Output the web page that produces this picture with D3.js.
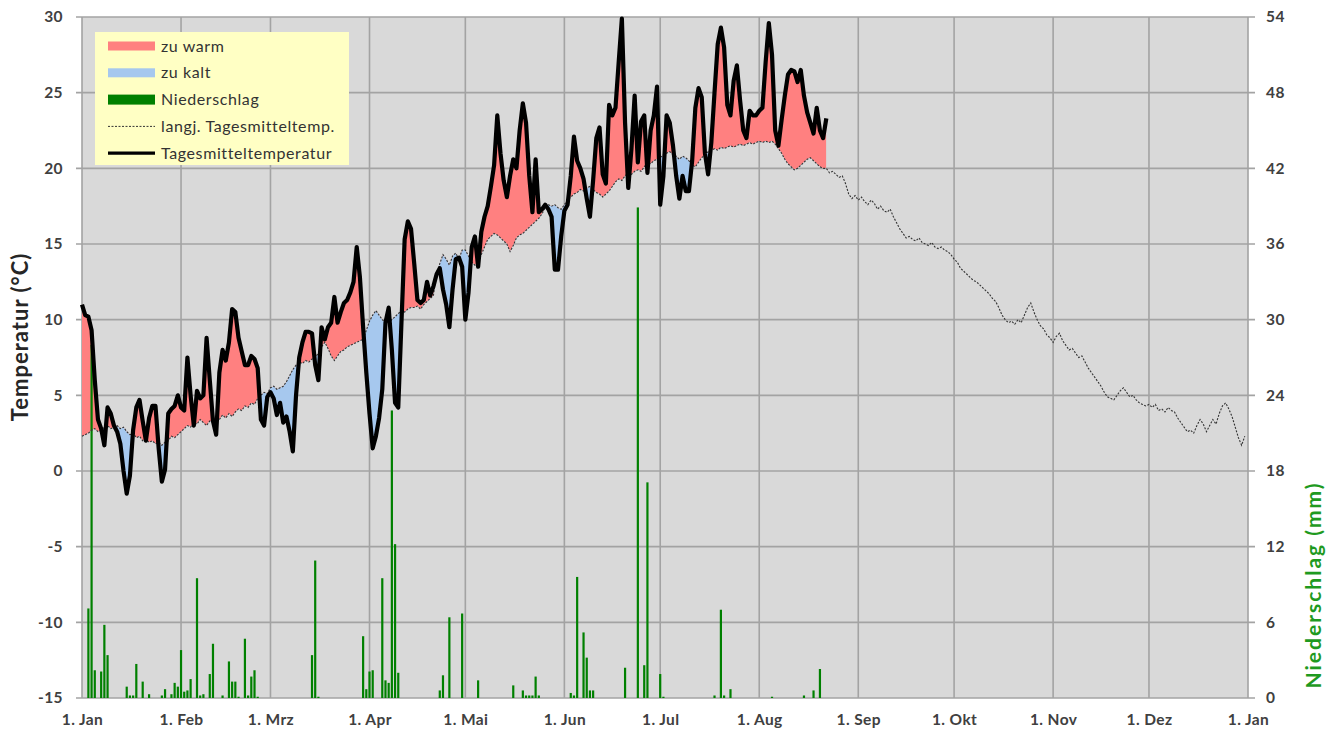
<!DOCTYPE html>
<html>
<head>
<meta charset="utf-8">
<script src="https://cdn.jsdelivr.net/npm/d3@7"></script>
<style>
  body { margin: 0; background: #ffffff; }
  svg { display: block; font-family: Lato, "Open Sans", sans-serif; }
</style>
</head>
<body>
<div class="chart"></div>
<script>
// day index 0 = 1. Jan, non-leap year
var monthStarts = [0, 31, 59, 90, 120, 151, 181, 212, 243, 273, 304, 334, 365];
var monthLabels = ["1. Jan", "1. Feb", "1. Mrz", "1. Apr", "1. Mai", "1. Jun", "1. Jul",
  "1. Aug", "1. Sep", "1. Okt", "1. Nov", "1. Dez", "1. Jan"];
var tempTicks = [-15, -10, -5, 0, 5, 10, 15, 20, 25, 30];
var precipTicks = [0, 6, 12, 18, 24, 30, 36, 42, 48, 54];

// Tagesmitteltemperatur (°C), 1. Jan .. 22. Aug
var tempActual = [
  11.0, 10.3, 10.2, 9.3, 6.0, 3.4, 2.8, 1.7, 4.2, 3.8, 3.0, 2.6, 1.8, 0.0, -1.5, -0.3,
  2.7, 4.2, 4.7, 3.3, 2.0, 3.5, 4.3, 4.3, 1.5, -0.7, 0.1, 3.8, 4.1, 4.3, 5.0,
  4.2, 4.0, 7.5, 5.0, 3.0, 5.3, 4.8, 5.0, 8.8, 6.0, 3.3, 2.4, 6.5, 8.0, 7.3, 8.5,
  10.7, 10.5, 8.8, 7.9, 7.0, 7.0, 7.6, 7.4, 6.8, 3.4, 3.0, 4.9,
  5.2, 4.8, 3.7, 4.5, 3.2, 3.6, 2.6, 1.3, 5.0, 7.5, 8.5, 9.2, 9.2, 9.1, 7.0, 6.0,
  9.5, 8.7, 9.5, 9.8, 11.5, 9.8, 10.5, 11.1, 11.3, 11.8, 12.5, 14.8, 12.8, 9.5, 6.5,
  3.8, 1.5, 2.3, 3.5, 5.4, 9.8, 10.8, 8.0, 4.5, 4.2, 9.8, 15.3, 16.5, 16.0, 13.7,
  11.3, 11.1, 11.3, 12.5, 11.6, 12.2, 13.0, 13.4, 12.0, 11.0, 9.5, 12.0, 14.0, 14.1, 13.5,
  10.0, 11.8, 14.8, 15.5, 13.5, 15.8, 16.8, 17.5, 18.8, 20.2, 23.5, 21.0, 19.2, 18.1,
  19.5, 20.6, 20.0, 22.5, 24.3, 23.0, 19.5, 17.1, 20.6, 17.1, 17.3, 17.6, 17.3, 16.8,
  13.3, 13.3, 15.5,
  17.2, 17.6, 19.5, 22.1, 20.5, 20.0, 19.3, 18.0, 16.8, 19.2, 22.0, 22.7, 19.6, 19.0,
  24.2, 23.5, 24.0, 27.0, 29.9, 23.0, 18.7, 21.3, 24.8, 20.4, 23.1, 23.5, 19.7, 22.5,
  23.5, 25.4,
  17.6, 19.5, 23.5, 23.0, 21.5, 19.5, 18.0, 19.5, 18.5, 18.5, 20.5, 24.0, 25.3, 24.7,
  21.0, 19.6, 21.7, 25.0, 28.2, 29.3, 28.0, 24.2, 23.5, 25.8, 26.8, 24.5, 22.5, 22.0,
  23.8, 23.5, 23.5,
  23.8, 24.0, 27.0, 29.6, 27.5, 22.5, 21.5, 23.2, 24.8, 26.2, 26.5, 26.4, 25.7, 26.5,
  24.8, 23.7, 23.0, 22.3, 24.0, 22.5, 22.0, 23.3
];

// langjährige Tagesmitteltemperatur (°C), ganzes Jahr
var tempNormal = [
  2.3, 2.4, 2.5, 2.7, 2.8, 2.6, 2.7, 2.9, 3.0, 2.8, 2.9, 3.0, 2.8, 2.9, 2.6, 2.4,
  2.5, 2.2, 2.3, 2.0, 2.1, 1.9, 2.0, 1.8, 1.9, 1.7, 1.9, 2.0, 2.3, 2.2, 2.4,
  2.6, 2.8, 3.0, 2.9, 3.2, 3.1, 3.4, 3.2, 3.0, 3.3, 3.2, 3.5, 3.4, 3.7, 3.5, 3.8,
  3.6, 3.9, 4.1, 4.0, 4.3, 4.2, 4.5, 4.4, 4.8, 5.0, 5.2, 5.1,
  5.5, 5.6, 5.4, 5.5, 5.6, 5.9, 6.3, 6.7, 7.0, 7.2, 7.1, 7.3, 7.2, 7.4, 7.5, 7.8,
  8.2, 8.5, 8.1, 7.6, 7.3, 7.6, 7.9, 8.0, 8.2, 8.3, 8.4, 8.5, 8.6, 8.7, 9.3,
  9.9, 10.3, 10.6, 10.3, 10.0, 9.8, 9.8, 10.0, 10.2, 10.4, 10.6, 10.5, 10.7, 10.8, 10.8,
  10.9, 10.7, 11.0, 11.2, 11.4, 11.6, 13.0, 13.7, 14.3, 14.0, 13.6, 14.2, 14.4, 14.0, 14.6,
  14.6, 14.2, 13.8, 13.6, 13.8, 14.3, 14.8, 15.3, 15.5, 15.7, 15.6, 15.4, 15.2, 15.0,
  14.5, 14.9, 15.4, 15.6, 15.7, 15.9, 16.1, 16.3, 16.5, 16.7, 17.0, 17.4, 17.6, 17.5,
  17.6, 17.4, 17.3,
  17.6, 17.9, 18.1, 18.3, 18.4, 18.6, 18.5, 18.7, 18.8, 18.6, 18.4, 18.3, 18.1, 18.3,
  18.5, 18.8, 19.1, 19.3, 19.2, 19.5, 19.7, 19.6, 19.8, 19.9, 19.8, 20.1, 20.4, 20.3,
  20.5, 20.6,
  20.7, 20.9, 21.0, 21.1, 20.9, 20.8, 20.6, 20.8, 20.7, 20.5, 20.2, 20.1, 20.4, 20.7,
  20.9, 21.1, 21.2, 21.3, 21.2, 21.4, 21.3, 21.4, 21.5, 21.4, 21.5, 21.6, 21.5, 21.6,
  21.7, 21.6, 21.7,
  21.8, 21.7, 21.8, 21.7, 21.8, 21.6, 21.3, 21.0, 20.6, 20.3, 20.1, 19.9, 20.0, 20.2,
  20.4, 20.6, 20.7, 20.5, 20.3, 20.1, 20.0, 20.0, 19.7, 19.8, 19.6, 19.4, 19.5, 19.0,
  18.3, 18.0, 18.2,
  17.9, 18.1, 17.8, 17.6, 17.9, 17.7, 17.3, 17.5, 17.2, 17.1, 17.3, 16.8, 16.4, 16.0,
  15.7, 15.4, 15.5, 15.3, 15.2, 15.4, 15.1, 15.0, 14.9, 15.1, 14.8, 14.7, 14.8, 14.6,
  14.5, 14.3,
  14.0, 13.8, 13.4, 13.2, 13.0, 12.8, 12.6, 12.5, 12.3, 12.1, 11.9, 11.7, 11.4, 11.2,
  10.8, 10.3, 10.0, 9.8, 9.9, 9.7, 10.0, 9.8, 10.3, 10.8, 11.1, 10.5, 10.0, 9.6, 9.4,
  9.0, 8.8,
  8.5, 8.9, 9.1, 8.6, 8.3, 8.0, 8.1, 7.8, 7.5, 7.6, 7.2, 6.8, 6.5, 6.2, 5.9, 5.6,
  5.2, 4.9, 4.8, 4.7, 5.0, 5.3, 5.5, 5.2, 4.9, 5.0, 4.7, 4.5, 4.4, 4.3,
  4.4, 4.2, 4.4, 4.0, 4.1, 3.9, 4.2, 4.0, 3.9, 3.5, 3.2, 2.9, 2.6, 2.7, 2.5, 3.0,
  3.4, 3.1, 2.6, 3.0, 3.4, 3.1, 3.8, 4.3, 4.5, 4.1, 3.6, 2.9, 2.2, 1.7, 2.3
];

// Niederschlag (mm): Tag im Jahr und Menge
var precipDay = [2, 3, 4, 6, 7, 8, 14, 15, 16, 17, 19, 21, 25, 26, 28, 29, 30, 31, 32, 33,
  34, 36, 37, 38, 40, 41, 44, 46, 47, 48, 49, 51, 52, 53, 54, 55, 72, 73, 74, 88, 89, 90,
  91, 94, 95, 96, 97, 98, 99, 112, 113, 115, 119, 124, 135, 138, 139, 140, 141, 142, 143,
  153, 154, 155, 157, 158, 159, 160, 170, 174, 176, 177, 181, 182, 198, 200, 201, 203,
  216, 226, 229, 231];
var precipMm = [7.1, 28.0, 2.2, 2.1, 5.8, 3.4, 0.9, 0.2, 0.2, 2.7, 1.3, 0.3, 0.2, 0.7, 0.3,
  1.2, 0.9, 3.8, 0.5, 0.6, 1.5, 9.5, 0.2, 0.3, 1.9, 4.3, 0.2, 2.9, 1.3, 1.3, 0.1, 4.7, 0.2,
  1.7, 2.2, 0.1, 3.4, 10.9, 0.1, 4.9, 0.7, 2.1, 2.2, 9.5, 1.4, 1.2, 22.8, 12.2, 2.0, 0.6,
  1.8, 6.4, 6.7, 1.4, 1.0, 0.6, 0.2, 0.2, 0.2, 1.7, 0.2, 0.4, 0.2, 9.6, 5.2, 3.2, 0.6, 0.6,
  2.4, 38.9, 2.6, 17.1, 1.9, 0.1, 0.2, 7.0, 0.2, 0.7, 0.1, 0.2, 0.6, 2.3];

var legendLabels = ["zu warm", "zu kalt", "Niederschlag", "langj. Tagesmitteltemp.", "Tagesmitteltemperatur"];

function init() {
  var w = 1327;
  var h = 729;
  var left = 82, right = 1248, top = 17, bottom = 698;
  var gridColor = "#a3a3a3";
  var labelColor = "#404040";

  var xScale = d3.scaleLinear().domain([0, 365]).range([left, right]);
  var yScale = d3.scaleLinear().domain([-15, 30]).range([bottom, top]);
  var pScale = d3.scaleLinear().domain([0, 54]).range([bottom, top]);

  var svg = d3.select(".chart")
    .append("svg")
    .attr("width", w)
    .attr("height", h);

  svg.append("rect")
    .attr("x", left).attr("y", top)
    .attr("width", right - left).attr("height", bottom - top)
    .attr("fill", "#d9d9d9");

  // grid
  svg.append("g").selectAll("line")
    .data(tempTicks)
    .enter().append("line")
    .attr("x1", left - 6).attr("x2", right + 7)
    .attr("y1", function(d) { return yScale(d); })
    .attr("y2", function(d) { return yScale(d); })
    .attr("stroke", gridColor).attr("stroke-width", 1.6);

  svg.append("g").selectAll("line")
    .data(monthStarts)
    .enter().append("line")
    .attr("x1", function(d) { return xScale(d); })
    .attr("x2", function(d) { return xScale(d); })
    .attr("y1", top).attr("y2", bottom)
    .attr("stroke", gridColor).attr("stroke-width", 1.6);

  // axes
  var yAxis = d3.axisLeft(yScale).tickValues(tempTicks).tickSize(0).tickPadding(19)
    .tickFormat(function(d) { return String(d); });
  svg.append("g")
    .attr("transform", "translate(" + left + ",0)")
    .call(yAxis)
    .call(function(g) { g.select(".domain").remove(); });

  var pAxis = d3.axisRight(pScale).tickValues(precipTicks).tickSize(0).tickPadding(18);
  svg.append("g")
    .attr("transform", "translate(" + right + ",0)")
    .call(pAxis)
    .call(function(g) { g.select(".domain").remove(); });

  var xAxis = d3.axisBottom(xScale).tickValues(monthStarts).tickSize(0).tickPadding(16)
    .tickFormat(function(d, i) { return monthLabels[i]; });
  svg.append("g")
    .attr("transform", "translate(0," + bottom + ")")
    .call(xAxis)
    .call(function(g) { g.select(".domain").remove(); });

  svg.selectAll(".tick text")
    .attr("font-family", "Lato, sans-serif")
    .attr("font-size", "15.5px")
    .attr("font-weight", "bold")
    .attr("letter-spacing", "0.4px")
    .attr("fill", labelColor);

  svg.append("text")
    .attr("transform", "translate(28,337) rotate(-90)")
    .attr("text-anchor", "middle")
    .attr("font-size", "22px")
    .attr("font-weight", "bold")
    .attr("letter-spacing", "1px")
    .attr("fill", "#262626")
    .text("Temperatur (°C)");

  svg.append("text")
    .attr("transform", "translate(1321,585) rotate(-90)")
    .attr("text-anchor", "middle")
    .attr("font-size", "21px")
    .attr("font-weight", "bold")
    .attr("letter-spacing", "2px")
    .attr("fill", "#1f9a1f")
    .text("Niederschlag (mm)");

  // warm / cold areas, clipped above / below the long-term line
  var n = tempActual.length;
  var normalPart = tempNormal.slice(0, n);

  var defs = svg.append("defs");
  defs.append("clipPath").attr("id", "above")
    .append("path")
    .attr("d", d3.area()
      .x(function(d, i) { return xScale(i); })
      .y0(top)
      .y1(function(d) { return yScale(d); })(normalPart));
  defs.append("clipPath").attr("id", "below")
    .append("path")
    .attr("d", d3.area()
      .x(function(d, i) { return xScale(i); })
      .y0(function(d) { return yScale(d); })
      .y1(bottom)(normalPart));

  var diffArea = d3.area()
    .x(function(d, i) { return xScale(i); })
    .y0(function(d, i) { return yScale(tempNormal[i]); })
    .y1(function(d) { return yScale(d); });

  svg.append("path")
    .attr("d", diffArea(tempActual))
    .attr("clip-path", "url(#above)")
    .attr("fill", "#ff8080");

  svg.append("path")
    .attr("d", diffArea(tempActual))
    .attr("clip-path", "url(#below)")
    .attr("fill", "#a6c8ee");

  // precipitation bars
  svg.append("g").selectAll("rect")
    .data(precipDay)
    .enter().append("rect")
    .attr("x", function(d) { return xScale(d) - 1.1; })
    .attr("y", function(d, i) { return pScale(precipMm[i]); })
    .attr("width", 2.2)
    .attr("height", function(d, i) { return bottom - pScale(precipMm[i]); })
    .attr("fill", "#008000");

  // long-term mean
  svg.append("path")
    .attr("d", d3.line()
      .x(function(d, i) { return xScale(i); })
      .y(function(d) { return yScale(d); })(tempNormal))
    .attr("fill", "none")
    .attr("stroke", "#333333")
    .attr("stroke-width", 1.1)
    .attr("stroke-dasharray", "2,1.5");

  // daily mean
  svg.append("path")
    .attr("d", d3.line()
      .x(function(d, i) { return xScale(i); })
      .y(function(d) { return yScale(d); })(tempActual))
    .attr("fill", "none")
    .attr("stroke", "#000000")
    .attr("stroke-width", 4.2)
    .attr("stroke-linejoin", "round");

  // legend
  var legend = svg.append("g").attr("transform", "translate(95,32)");
  legend.append("rect")
    .attr("width", 254).attr("height", 133)
    .attr("fill", "#ffffc4");

  var rowY = function(i) { return 14 + i * 26.8; };
  var rows = legend.selectAll("g")
    .data(legendLabels)
    .enter().append("g")
    .attr("transform", function(d, i) { return "translate(0," + rowY(i) + ")"; });

  rows.each(function(d, i) {
    var g = d3.select(this);
    if (i === 0 || i === 1 || i === 2) {
      g.append("rect")
        .attr("x", 13).attr("y", i === 2 ? -5 : -4.5)
        .attr("width", 47).attr("height", i === 2 ? 10 : 9)
        .attr("fill", ["#ff8080", "#a6c8ee", "#008000"][i]);
    } else if (i === 3) {
      g.append("line")
        .attr("x1", 13).attr("x2", 60)
        .attr("stroke", "#333333").attr("stroke-width", 1)
        .attr("stroke-dasharray", "2,1.5");
    } else {
      g.append("line")
        .attr("x1", 13).attr("x2", 60)
        .attr("stroke", "#000").attr("stroke-width", 3.2);
    }
    g.append("text")
      .attr("x", 66).attr("y", 0)
      .attr("dy", "0.35em")
      .attr("font-size", "16px")
      .attr("letter-spacing", "0.6px")
      .attr("fill", "#333333")
      .text(d);
  });
}

window.onload = init;
</script>
</body>
</html>
